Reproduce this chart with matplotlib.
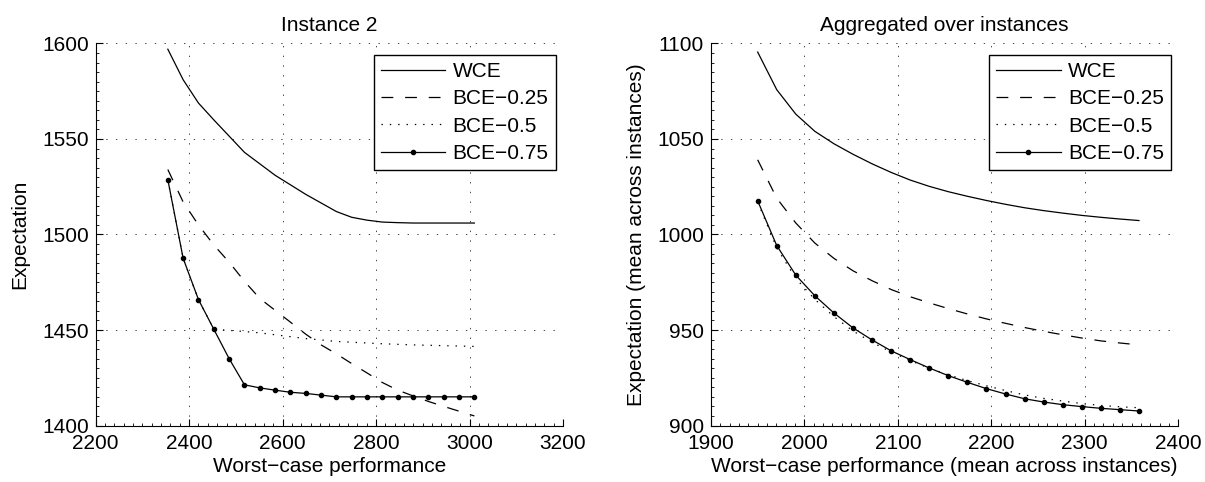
import matplotlib
matplotlib.use("Agg")
import matplotlib.pyplot as plt
from matplotlib.ticker import MultipleLocator

plt.rcParams['font.family'] = ['Liberation Sans', 'DejaVu Sans']
plt.rcParams['font.size'] = 15
plt.rcParams['lines.scale_dashes'] = False
plt.rcParams['axes.unicode_minus'] = True

# ---- Instance 2 ----
inst_x = [2354.4, 2387.2, 2420.0, 2452.8, 2485.6, 2518.4, 2551.2, 2584.0, 2616.8, 2649.6,
          2682.4, 2715.2, 2748.0, 2780.8, 2813.6, 2846.4, 2879.2, 2912.0, 2944.8, 2977.6, 3010.4]
inst_wce = [1597.0, 1581.0, 1568.8, 1560.0, 1551.5, 1543.0, 1537.0, 1531.0, 1526.0, 1521.0,
            1516.5, 1512.0, 1509.0, 1507.5, 1506.5, 1506.2, 1506.0, 1506.0, 1506.0, 1506.0, 1506.0]
inst_bce25 = [1534.0, 1517.0, 1505.0, 1494.5, 1485.5, 1475.5, 1466.5, 1460.3, 1454.1, 1447.8,
              1442.2, 1437.5, 1432.4, 1427.5, 1422.5, 1418.5, 1415.5, 1412.6, 1410.0, 1407.5, 1405.0]
inst_bce50 = [1528.7, 1487.5, 1465.9, 1450.4, 1449.8, 1449.2, 1448.5, 1447.5, 1446.5, 1445.5,
              1444.8, 1444.0, 1443.6, 1443.2, 1442.8, 1442.5, 1442.2, 1442.0, 1441.8, 1441.6, 1441.4]
inst_bce75 = [1528.7, 1487.5, 1465.9, 1450.4, 1435.0, 1421.3, 1419.7, 1418.5, 1417.4, 1416.8,
              1415.9, 1415.0, 1415.0, 1415.0, 1415.0, 1415.0, 1415.0, 1415.0, 1415.0, 1415.0, 1415.0]

# ---- Aggregated ----
agg_x = [1950.0, 1970.4, 1990.8, 2011.2, 2031.6, 2052.0, 2072.4, 2092.8, 2113.2, 2133.6,
         2154.0, 2174.4, 2194.8, 2215.2, 2235.6, 2256.0, 2276.4, 2296.8, 2317.2, 2337.6, 2358.0]
agg_wce = [1095.5, 1075.8, 1063.0, 1054.0, 1047.5, 1042.0, 1037.0, 1032.5, 1028.5, 1025.2,
           1022.4, 1020.0, 1017.8, 1015.8, 1014.0, 1012.5, 1011.2, 1010.0, 1009.0, 1008.1, 1007.3]
agg_bce25 = [1039.1, 1019.0, 1006.0, 995.5, 987.5, 981.0, 975.8, 971.2, 967.4, 964.2,
             961.2, 958.4, 955.8, 953.5, 951.3, 949.3, 947.5, 945.8, 944.3, 943.2, 942.2]
agg_bce50 = [1017.0, 993.0, 977.0, 966.0, 957.0, 949.5, 943.5, 938.5, 934.0, 930.0,
             926.5, 923.5, 920.8, 918.3, 916.0, 914.2, 912.8, 911.5, 910.5, 909.8, 909.3]
agg_bce75 = [1017.6, 994.2, 978.7, 967.9, 958.9, 951.1, 944.8, 939.1, 934.5, 930.1,
             926.1, 922.6, 919.3, 916.5, 914.0, 912.3, 910.9, 909.9, 909.0, 908.3, 907.6]

labels = ['WCE', 'BCE\u22120.25', 'BCE\u22120.5', 'BCE\u22120.75']

fig = plt.figure(figsize=(12.05, 4.82), dpi=100)
ax1 = fig.add_axes([0.0794, 0.1172, 0.3878, 0.7926])
ax2 = fig.add_axes([0.5900, 0.1172, 0.3878, 0.7926])


def draw(ax, x, wce, b25, b50, b75):
    ax.plot(x, wce, color='k', lw=0.9, label=labels[0])
    ax.plot(x, b25, color='k', lw=0.9, linestyle=(0, (8.5, 8.5)), label=labels[1])
    ax.plot(x, b50, color='k', lw=0.9, linestyle=(0, (1, 5)), label=labels[2])
    ax.plot(x, b75, color='k', lw=0.9, marker='o', ms=3, label=labels[3])
    ax.grid(True, which='major', color='k', lw=0.5, linestyle=(0, (1, 6)))
    ax.spines['top'].set_visible(False)
    ax.spines['right'].set_visible(False)
    ax.tick_params(which='both', direction='in')
    ax.tick_params(axis='x', which='major', length=5, pad=6)
    ax.tick_params(axis='y', which='major', length=5, pad=5)
    ax.tick_params(which='minor', length=2.5)
    leg = ax.legend(loc='upper right', bbox_to_anchor=(0.985, 0.971), borderaxespad=0,
                    fancybox=False, edgecolor='k', framealpha=1, handlelength=3.1,
                    handletextpad=0.35, labelspacing=0.4, borderpad=0.35)
    leg.get_frame().set_linewidth(1.0)


draw(ax1, inst_x, inst_wce, inst_bce25, inst_bce50, inst_bce75)
ax1.set_xlim(2200, 3200)
ax1.set_ylim(1400, 1600)
ax1.xaxis.set_major_locator(MultipleLocator(200))
ax1.xaxis.set_minor_locator(MultipleLocator(20))
ax1.yaxis.set_major_locator(MultipleLocator(50))
ax1.yaxis.set_minor_locator(MultipleLocator(5))
ax1.set_title('Instance 2', fontsize=15, pad=9)
ax1.set_xlabel('Worst\u2212case performance', labelpad=3)
ax1.set_ylabel('Expectation', labelpad=9)

draw(ax2, agg_x, agg_wce, agg_bce25, agg_bce50, agg_bce75)
ax2.set_xlim(1900, 2400)
ax2.set_ylim(900, 1100)
ax2.xaxis.set_major_locator(MultipleLocator(100))
ax2.xaxis.set_minor_locator(MultipleLocator(10))
ax2.yaxis.set_major_locator(MultipleLocator(50))
ax2.yaxis.set_minor_locator(MultipleLocator(5))
ax2.set_title('Aggregated over instances', fontsize=15, pad=9)
ax2.set_xlabel('Worst\u2212case performance (mean across instances)', labelpad=3)
ax2.set_ylabel('Expectation (mean across instances)', labelpad=8)

fig.savefig('out.png', dpi=100, facecolor='white')
